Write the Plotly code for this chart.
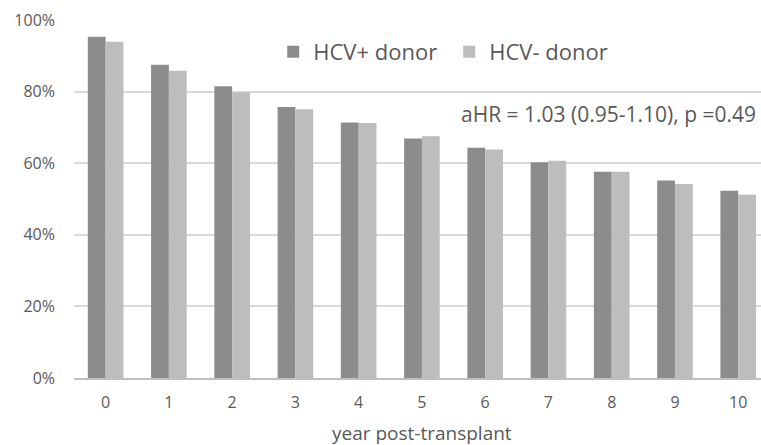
import plotly.graph_objects as go

years = [str(i) for i in range(11)]
hcv_pos = [0.953, 0.875, 0.815, 0.757, 0.714, 0.669, 0.643, 0.603, 0.576, 0.552, 0.523]
hcv_neg = [0.939, 0.858, 0.798, 0.751, 0.712, 0.675, 0.638, 0.607, 0.576, 0.542, 0.512]
series_names = ["HCV+ donor", "HCV- donor"]
colors = ["#8c8c8c", "#bdbdbd"]
annotation_text = "aHR = 1.03 (0.95-1.10), p =0.49"
x_title = "year post-transplant"

FONT = "Open Sans"
TXT = "#595959"

fig = go.Figure()
for name, vals, c in zip(series_names, [hcv_pos, hcv_neg], colors):
    fig.add_trace(go.Bar(x=years, y=vals, name=name, marker=dict(color=c, line=dict(width=0))))

fig.update_layout(
    width=761, height=445,
    margin=dict(l=74, r=0, t=20, b=67),
    paper_bgcolor="white", plot_bgcolor="white",
    barmode="group", bargap=0.437, bargroupgap=0,
    font=dict(family=FONT, color=TXT, size=16),
    showlegend=True,
    legend=dict(orientation="h", x=0.29, y=0.911, xanchor="left", yanchor="middle",
                font=dict(size=22, color=TXT), bgcolor="rgba(0,0,0,0)",
                itemwidth=30, entrywidth=131),
    xaxis=dict(type="category", range=[-0.5, 10.36], showgrid=False,
               showline=True, linecolor="#bfbfbf", linewidth=1.5,
               ticks="", tickfont=dict(size=16, color=TXT), ticklabelstandoff=9),
    yaxis=dict(range=[0, 1], dtick=0.2, tickformat=".0%", showgrid=True,
               gridcolor="#d9d9d9", gridwidth=1.5, zeroline=False, showline=False,
               ticks="", tickfont=dict(size=16, color=TXT), ticklabelstandoff=18),
)
fig.add_annotation(text=annotation_text, xref="paper", yref="paper", x=0.996, y=0.737,
                   xanchor="right", yanchor="middle", showarrow=False,
                   font=dict(size=21, color=TXT))
fig.add_annotation(text=x_title, xref="x", yref="paper", x=5, y=-0.153,
                   xanchor="center", yanchor="middle", showarrow=False,
                   font=dict(size=19, color=TXT))
fig.write_html("out.html", config={"displayModeBar": False},
               post_script="document.body.style.margin='0';")
